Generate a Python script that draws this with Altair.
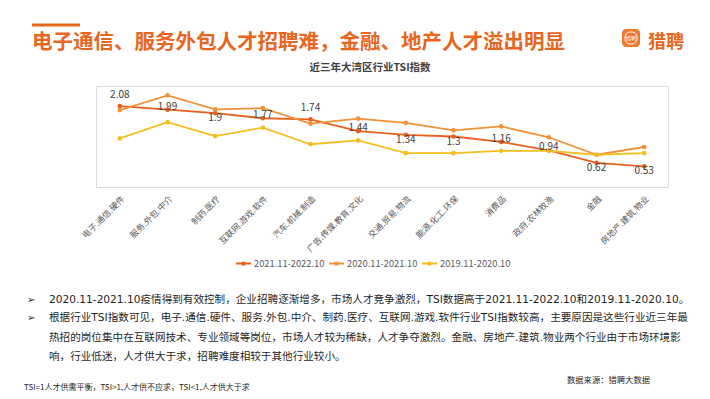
import altair as alt
import pandas as pd

categories = ["电子.通信.硬件", "服务.外包.中介", "制药.医疗", "互联网.游戏.软件", "汽车.机械.制造",
              "广告.传媒.教育.文化", "交通.贸易.物流", "能源.化工.环保", "消费品", "政府.农林牧渔",
              "金融", "房地产.建筑.物业"]
series_names = ["2021.11-2022.10", "2020.11-2021.10", "2019.11-2020.10"]
tsi_2022 = [2.08, 1.99, 1.9, 1.77, 1.74, 1.44, 1.34, 1.3, 1.16, 0.94, 0.62, 0.53]
tsi_2021 = [1.98, 2.36, 2.0, 2.03, 1.63, 1.76, 1.65, 1.46, 1.56, 1.28, 0.83, 1.03]
tsi_2020 = [1.25, 1.67, 1.31, 1.53, 1.10, 1.20, 0.87, 0.87, 0.93, 0.93, 0.83, 0.87]
label_pos_2022 = ["above", "on", "below", "on", "above", "on", "below", "below", "on", "on", "below", "below"]
series_colors = ["#E8601E", "#F0923A", "#F5BE1F"]

title_text = "电子通信、服务外包人才招聘难，金融、地产人才溢出明显"
chart_title = "近三年大湾区行业TSI指数"
para_lines = [
    "2020.11-2021.10疫情得到有效控制，企业招聘逐渐增多，市场人才竞争激烈，TSI数据高于2021.11-2022.10和2019.11-2020.10。",
    "根据行业TSI指数可见，电子.通信.硬件、服务.外包.中介、制药.医疗、互联网.游戏.软件行业TSI指数较高，主要原因是这些行业近三年最",
    "热招的岗位集中在互联网技术、专业领域等岗位，市场人才较为稀缺，人才争夺激烈。金融、房地产.建筑.物业两个行业由于市场环境影",
    "响，行业低迷，人才供大于求，招聘难度相较于其他行业较小。",
]
footnote = "TSI=1人才供需平衡，TSI>1,人才供不应求，TSI<1,人才供大于求"
source = "数据来源：猎聘大数据"

rows = []
for name, vals in zip(series_names, [tsi_2022, tsi_2021, tsi_2020]):
    for i, (c, v) in enumerate(zip(categories, vals)):
        rows.append({"industry": c, "series": name, "tsi": v, "idx": i})
df = pd.DataFrame(rows)
lab = pd.DataFrame({"industry": categories, "tsi": tsi_2022, "pos": label_pos_2022})

FONT = "Noto Sans CJK SC"
PARA_FONT = "DejaVu Sans, Noto Sans CJK SC"
ORANGE = "#E8661E"

x_enc = alt.X("industry:N", sort=categories, title=None,
              axis=alt.Axis(labelAngle=-45, labelFontSize=8.5, labelColor="#595959", labelFont=FONT,
                            ticks=False, domainColor="#D9D9D9", labelPadding=7, grid=False))
y_enc = alt.Y("tsi:Q", scale=alt.Scale(domain=[0, 2.5]), axis=None)
color_enc = alt.Color("series:N", scale=alt.Scale(domain=series_names, range=series_colors),
                      sort=series_names, title=None,
                      legend=alt.Legend(orient="none", direction="horizontal", legendX=139, legendY=169,
                                        symbolType="M-1,0L1,0M-0.12,-0.12L0.12,-0.12L0.12,0.12L-0.12,0.12Z",
                                        symbolSize=225, symbolStrokeWidth=2, labelFontSize=9.3,
                                        labelColor="#595959", labelFont=FONT, columnPadding=0,
                                        labelOffset=2, padding=0))

base = alt.Chart(df)
lines = base.mark_line(strokeWidth=1.8).encode(x=x_enc, y=y_enc, color=color_enc, order="idx:Q")
points = base.mark_point(filled=True, size=22, opacity=1).encode(x=x_enc, y=y_enc, color=color_enc)

label_layers = []
for pos, dy in [("above", -11), ("on", -3), ("below", 5)]:
    label_layers.append(
        alt.Chart(lab).transform_filter(alt.datum.pos == pos)
        .mark_text(fontSize=10, color="#404040", dy=dy, font=FONT)
        .encode(x=alt.X("industry:N", sort=categories), y=alt.Y("tsi:Q"), text=alt.Text("tsi:Q"))
    )

one = pd.DataFrame({"a": [0]})

def txt(text, x, y, **kw):
    return alt.Chart(one).mark_text(text=text, **kw).encode(x=alt.value(x), y=alt.value(y))

annotations = [
    alt.Chart(one).mark_rule(color=ORANGE, strokeWidth=3).encode(
        x=alt.value(-64), x2=alt.value(-16), y=alt.value(-61)),
    txt(title_text, -64, -43, fontSize=20.5, fontWeight="bold", color=ORANGE, font=FONT,
        align="left", baseline="middle"),
    alt.Chart(one).mark_rect(color="#F0782A", cornerRadius=4).encode(
        x=alt.value(526), x2=alt.value(544), y=alt.value(-57), y2=alt.value(-39)),
    alt.Chart(one).mark_rect(stroke="white", strokeWidth=1, fillOpacity=0, cornerRadius=5).encode(
        x=alt.value(529), x2=alt.value(541), y=alt.value(-54), y2=alt.value(-42)),
    txt("猎聘", 535, -48, fontSize=5, color="white", font=FONT, align="center", baseline="middle"),
    txt("猎聘", 552, -43, fontSize=18, fontWeight="bold", color=ORANGE, font=FONT,
        align="left", baseline="middle"),
    txt(chart_title, 274, -18, fontSize=10.5, fontWeight="bold", color="#404040", font=FONT,
        align="center", baseline="middle"),
]
for i, (line, yy) in enumerate(zip(para_lines, [214, 232, 251.5, 270.5])):
    annotations.append(txt(line, -47, yy, fontSize=10.6, color="#1F1F1F", font=PARA_FONT,
                           align="left", baseline="middle"))
    if i < 2:
        annotations.append(txt("➢", -69, yy, fontSize=10, color="#1F1F1F", font="DejaVu Sans",
                               align="left", baseline="middle"))
annotations.append(txt(footnote, -72, 302, fontSize=8, color="#262626", font=FONT,
                       align="left", baseline="middle"))
annotations.append(txt(source, 554, 295, fontSize=8.3, color="#262626", font=FONT,
                       align="right", baseline="middle"))

chart = alt.layer(lines, points, *label_layers, *annotations).properties(
    width=572, height=101,
    autosize=alt.AutoSizeParams(type="none"),
    padding={"left": 88, "top": 78, "right": 34, "bottom": 204},
).configure_view(stroke=None).configure(font=FONT, background="white")

chart.save("out.html", embed_options={"renderer": "svg", "actions": False})
